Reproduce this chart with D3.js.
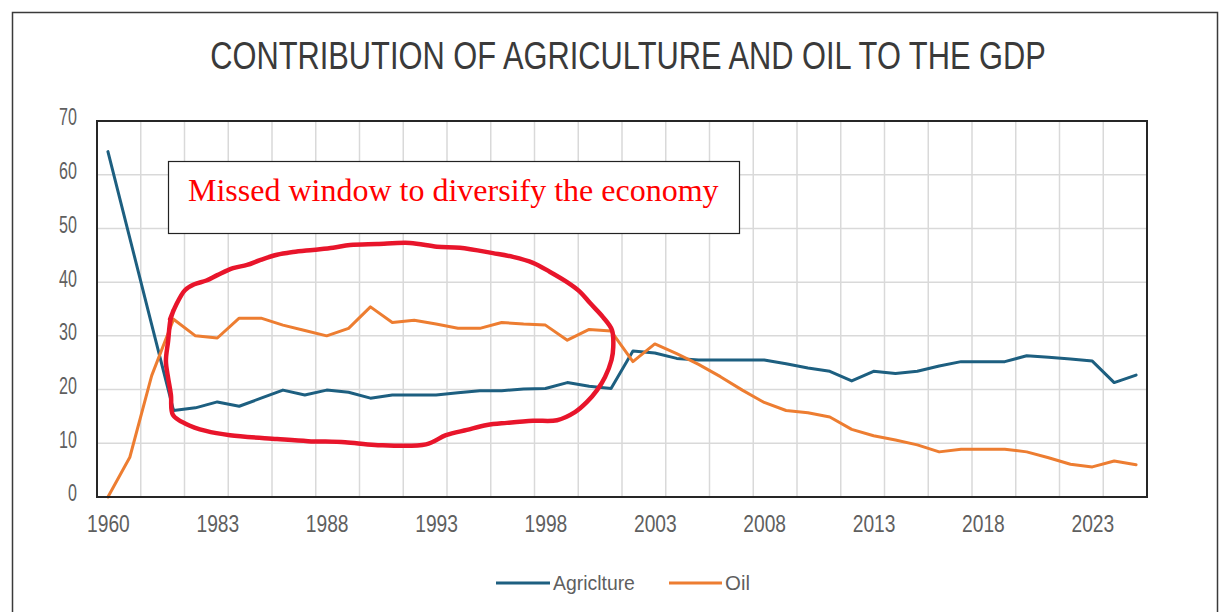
<!DOCTYPE html>
<html>
<head>
<meta charset="utf-8">
<script src="https://cdn.jsdelivr.net/npm/d3@7/dist/d3.min.js"></script>
<style>
  html, body { margin: 0; padding: 0; background: #fff; }
  svg { display: block; }
</style>
</head>
<body>
<svg id="chart" width="1221" height="612"></svg>
<script>
// Category years (early decades are sparse, then yearly)
const years = [
  "1960", "1970", "1980", "1981", "1982",
  "1983", "1984", "1985", "1986", "1987", "1988", "1989", "1990", "1991", "1992",
  "1993", "1994", "1995", "1996", "1997", "1998", "1999", "2000", "2001", "2002",
  "2003", "2004", "2005", "2006", "2007", "2008", "2009", "2010", "2011", "2012",
  "2013", "2014", "2015", "2016", "2017", "2018", "2019", "2020", "2021", "2022",
  "2023", "2024", "2025"
];

// Share of GDP (%)
const agriculture = [
  64.3, 48.2, 32.1, 16.1, 16.6,
  17.7, 16.9, 18.4, 19.9, 19.0, 19.9, 19.5, 18.4, 19.0, 19.0,
  19.0, 19.4, 19.8, 19.8, 20.1, 20.2, 21.3, 20.6, 20.2, 27.2,
  26.8, 25.8, 25.5, 25.5, 25.5, 25.5, 24.8, 24.0, 23.4, 21.6,
  23.4, 23.0, 23.4, 24.4, 25.2, 25.2, 25.2, 26.3, 26.0, 25.7,
  25.3, 21.3, 22.7
];
const oil = [
  0.0, 7.4, 22.6, 33.1, 30.0,
  29.6, 33.3, 33.3, 32.0, 31.0, 30.0, 31.4, 35.4, 32.5, 32.9,
  32.2, 31.4, 31.4, 32.5, 32.2, 32.0, 29.2, 31.2, 30.9, 25.2,
  28.5, 26.7, 24.7, 22.4, 19.9, 17.6, 16.1, 15.7, 14.9, 12.6,
  11.4, 10.6, 9.7, 8.4, 8.9, 8.9, 8.9, 8.4, 7.3, 6.1,
  5.6, 6.7, 6.0
];

// Axis ticks
const yTicks = [0, 10, 20, 30, 40, 50, 60, 70];
const xTickIndex = [0, 5, 10, 15, 20, 25, 30, 35, 40, 45];

const seriesNames = ["Agriclture", "Oil"];
const seriesColors = ["#1d5f80", "#ed7d31"];

const titleText = "CONTRIBUTION OF AGRICULTURE AND OIL TO THE GDP";
const noteText = "Missed window to diversify the economy";

// Hand-drawn loop around 1983-2001, as [category position, value]
const loop = [
  [2.84, 33.1], [3.11, 35.7], [3.52, 38.5], [3.95, 39.6], [4.5, 40.3],
  [5.0, 41.3], [5.72, 42.6], [6.36, 43.2], [6.95, 44.1], [7.73, 45.1],
  [8.46, 45.6], [9.37, 46.0], [10.29, 46.4], [11.07, 46.9], [12.3, 47.1],
  [13.81, 47.3], [15.04, 46.6], [16.09, 46.4], [17.6, 45.4], [18.52, 44.7],
  [19.43, 43.6], [20.21, 41.9], [20.99, 40.0], [21.58, 38.2], [22.04, 36.1],
  [22.63, 33.5], [23.04, 31.1], [23.1, 27.9], [23.02, 25.5], [22.72, 22.3],
  [22.36, 19.9], [21.9, 17.7], [21.35, 15.8], [20.53, 14.3], [19.43, 14.2],
  [18.24, 13.8], [17.33, 13.4], [16.41, 12.5], [15.45, 11.5], [14.54, 9.8],
  [12.21, 9.7], [10.84, 10.2], [9.15, 10.4], [7.73, 10.8], [5.58, 11.5],
  [4.48, 12.3], [3.57, 13.6], [2.97, 15.3], [2.88, 19.0], [2.75, 22.2],
  [2.65, 25.3], [2.75, 29.0], [2.86, 33.0], [3.0, 34.8]
];

const svg = d3.select("#chart");
const W = 1221, H = 612;
const plot = { left: 97, right: 1147, top: 121, bottom: 497 };

const x = d3.scaleLinear().domain([-0.5, years.length - 0.5]).range([plot.left, plot.right]);
const y = d3.scaleLinear().domain([0, 70]).range([plot.bottom, plot.top]);

// Outer chart border
svg.append("rect")
  .attr("x", 12.5).attr("y", 12.5)
  .attr("width", 1205).attr("height", H)
  .attr("fill", "#fff").attr("stroke", "#3a3a3a").attr("stroke-width", 1.5);

// Title, squeezed horizontally to a narrow face
const labelFont = "'Liberation Sans', Arial, sans-serif";
const titleG = svg.append("g");
const title = titleG.append("text")
  .attr("text-anchor", "middle")
  .attr("font-family", labelFont)
  .attr("font-size", 39)
  .attr("fill", "#3a3a3a")
  .text(titleText);
const natural = title.node().getComputedTextLength();
titleG.attr("transform", `translate(628,69) scale(${836 / natural},1)`);

// Gridlines
const grid = svg.append("g");
grid.selectAll("line.h").data(yTicks.slice(1)).join("line")
  .attr("x1", plot.left).attr("x2", plot.right)
  .attr("y1", d => y(d)).attr("y2", d => y(d))
  .attr("stroke", "#d9d9d9").attr("stroke-width", 1.5);
const vIdx = d3.range(2, years.length, 2);
grid.selectAll("line.v").data(vIdx).join("line")
  .attr("x1", d => x(d - 0.5)).attr("x2", d => x(d - 0.5))
  .attr("y1", plot.top).attr("y2", plot.bottom)
  .attr("stroke", "#d9d9d9").attr("stroke-width", 1.5);

// Axis labels (narrow look via horizontal scaling)
const sxX = 0.8, sxY = 0.7;

const xAxis = d3.axisBottom(x)
  .tickValues(xTickIndex)
  .tickFormat(i => years[i])
  .tickSize(0);
const gx = svg.append("g").attr("transform", `translate(0,${plot.bottom})`).call(xAxis);
gx.select(".domain").remove();
gx.selectAll("text")
  .attr("y", 35).attr("dy", null)
  .attr("transform", `scale(${sxX},1)`)
  .attr("font-family", labelFont).attr("font-size", 24)
  .attr("fill", "#5f5f5f");

const yAxis = d3.axisLeft(y).tickValues(yTicks).tickSize(0);
const gy = svg.append("g").attr("transform", `translate(${plot.left},0)`).call(yAxis);
gy.select(".domain").remove();
gy.selectAll("text")
  .attr("x", -20 / sxY).attr("dy", "0.3em")
  .attr("y", -3)
  .attr("transform", `scale(${sxY},1)`)
  .attr("font-family", labelFont).attr("font-size", 23)
  .attr("fill", "#5f5f5f");

// Series lines
const line = d3.line().x((d, i) => x(i)).y(d => y(d));
[agriculture, oil].forEach((s, k) => {
  svg.append("path")
    .datum(s)
    .attr("d", line)
    .attr("fill", "none")
    .attr("stroke", seriesColors[k])
    .attr("stroke-width", 3)
    .attr("stroke-linejoin", "round")
    .attr("stroke-linecap", "round");
});

// Plot frame
svg.append("rect")
  .attr("x", plot.left).attr("y", plot.top)
  .attr("width", plot.right - plot.left).attr("height", plot.bottom - plot.top)
  .attr("fill", "none").attr("stroke", "#262626").attr("stroke-width", 2);

// Note box
const note = svg.append("g");
note.append("rect")
  .attr("x", 168.5).attr("y", 161.5).attr("width", 571).attr("height", 72)
  .attr("fill", "#fff").attr("stroke", "#222").attr("stroke-width", 1.2);
note.append("text")
  .attr("x", 188).attr("y", 201)
  .attr("font-family", "'Liberation Serif', 'Times New Roman', serif")
  .attr("font-size", 32)
  .attr("fill", "#ff0000")
  .text(noteText);

// Hand-drawn loop
svg.append("path")
  .datum(loop)
  .attr("d", d3.line().x(d => x(d[0])).y(d => y(d[1])).curve(d3.curveCatmullRom))
  .attr("fill", "none")
  .attr("stroke", "#e8152b")
  .attr("stroke-width", 4.5)
  .attr("stroke-linejoin", "round")
  .attr("stroke-linecap", "round");

// Legend
const legend = svg.append("g");
const legendItems = [
  { name: seriesNames[0], color: seriesColors[0], x0: 496, x1: 550, tx: 553, tw: 82 },
  { name: seriesNames[1], color: seriesColors[1], x0: 669, x1: 722, tx: 725, tw: 25 }
];
legendItems.forEach(d => {
  legend.append("line")
    .attr("x1", d.x0).attr("x2", d.x1).attr("y1", 583).attr("y2", 583)
    .attr("stroke", d.color).attr("stroke-width", 3);
  const g = legend.append("g");
  const t = g.append("text")
    .attr("font-family", labelFont).attr("font-size", 20)
    .attr("fill", "#5f5f5f")
    .text(d.name);
  const w = t.node().getComputedTextLength();
  g.attr("transform", `translate(${d.tx},590) scale(${d.tw / w},1)`);
});
</script>
</body>
</html>
